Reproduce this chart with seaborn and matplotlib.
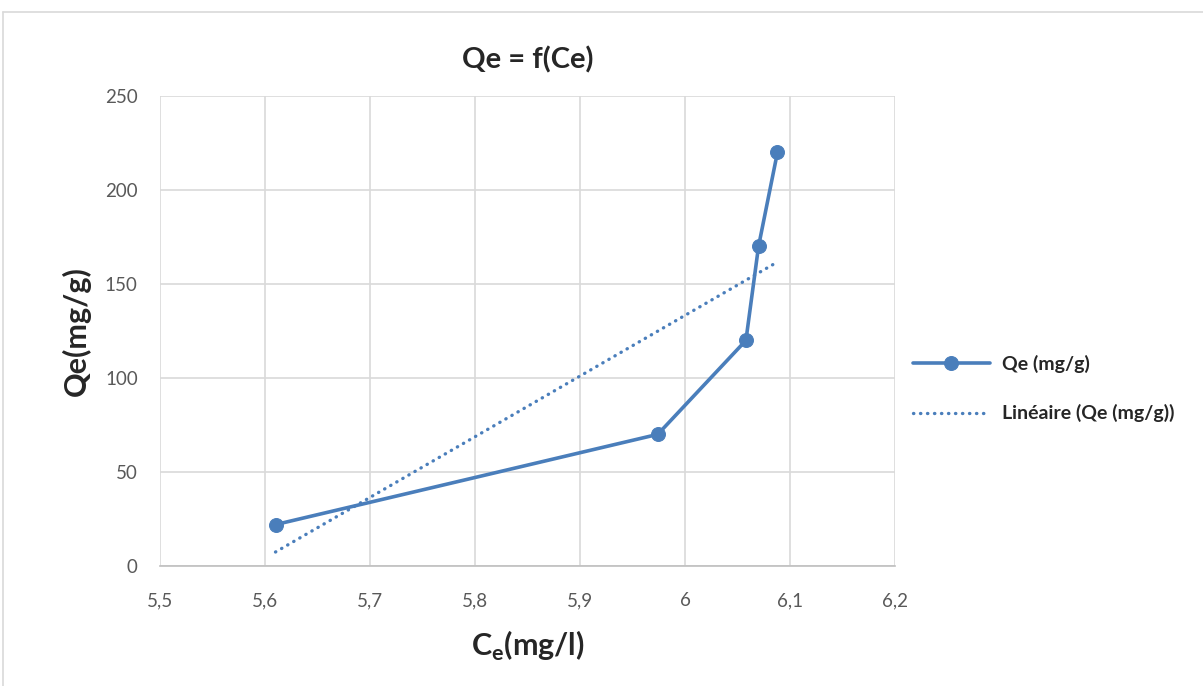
import numpy as np
import pandas as pd
import matplotlib.pyplot as plt
import seaborn as sns
from matplotlib.lines import Line2D

# donnees
ce = [5.61, 5.974, 6.058, 6.07, 6.088]
qe = [22, 70, 120, 170, 220]
xticks = [5.5, 5.6, 5.7, 5.8, 5.9, 6.0, 6.1, 6.2]
xticklabels = ["5,5", "5,6", "5,7", "5,8", "5,9", "6", "6,1", "6,2"]
yticks = [0, 50, 100, 150, 200, 250]

df = pd.DataFrame({"Ce": ce, "Qe": qe})

sns.set_style("white")
plt.rcParams["font.family"] = ["Lato", "DejaVu Sans"]
blue = "#4a7ebb"

fig = plt.figure(figsize=(12.03, 6.86), dpi=100)
ax = fig.add_axes([0.133, 0.175, 0.611, 0.685])

# cadre du graphique
fig.add_artist(Line2D([0.0025, 0.0025], [0, 0.9825], color="#d9d9d9", lw=1.2))
fig.add_artist(Line2D([0.0025, 1], [0.9825, 0.9825], color="#d9d9d9", lw=1.2))

sns.lineplot(data=df, x="Ce", y="Qe", ax=ax, color=blue, lw=2.6, marker="o",
             markersize=10, markeredgecolor=blue, label="Qe (mg/g)", sort=False)
# courbe de tendance lineaire
sns.regplot(data=df, x="Ce", y="Qe", ax=ax, scatter=False, ci=None, truncate=True,
            color=blue, label="Linéaire (Qe (mg/g))",
            line_kws={"lw": 2.4, "linestyle": (0, (0.1, 2.0)), "dash_capstyle": "round"})

ax.set_xlim(5.5, 6.2)
ax.set_ylim(0, 250)
ax.set_xticks(xticks)
ax.set_xticklabels(xticklabels)
ax.set_yticks(yticks)
ax.grid(True, color="#d9d9d9", lw=1.2)
for s in ["top", "right", "left"]:
    ax.spines[s].set_visible(False)
ax.spines["bottom"].set_color("#bfbfbf")
ax.spines["bottom"].set_linewidth(1.2)
ax.tick_params(axis="both", labelsize=13.5, colors="#595959", length=0)
ax.tick_params(axis="x", pad=19)
ax.tick_params(axis="y", pad=16)

ax.set_title("Qe = f(Ce)", fontsize=21, fontweight="bold", color="#262626", pad=20)
ax.set_xlabel("C$_\\mathregular{e}$(mg/l)", fontsize=22, fontweight="bold", color="#262626", labelpad=14)
ax.set_ylabel("Qe(mg/g)", fontsize=22, fontweight="bold", color="#262626", labelpad=10)

ax.legend(loc="center left", bbox_to_anchor=(1.0, 0.377), frameon=False,
          handlelength=4.0, handletextpad=0.6, labelspacing=1.6,
          prop={"weight": "bold", "size": 14})

fig.savefig("out.png", dpi=100)
